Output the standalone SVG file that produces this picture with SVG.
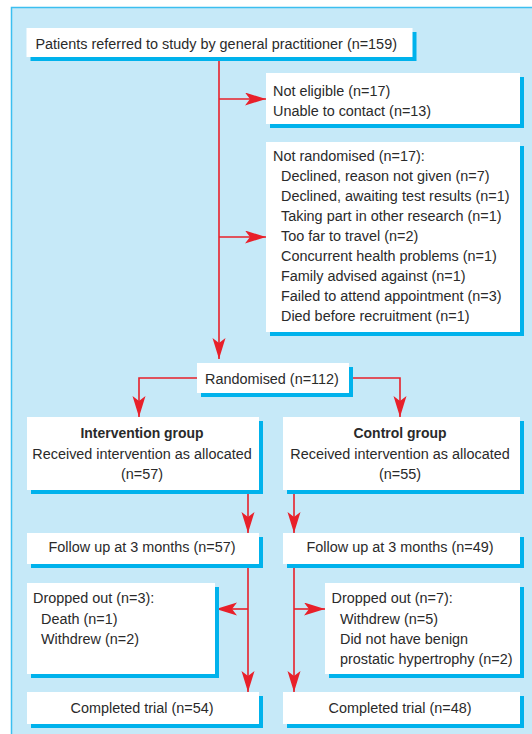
<svg xmlns="http://www.w3.org/2000/svg" width="532" height="734" viewBox="0 0 532 734">
<style>
  .box { fill: #ffffff; }
  .sh { fill: #00b2ec; }
  text { font-family: "Liberation Sans", Arial, sans-serif; font-size: 15.5px; fill: #2a2a2a; }
  .c { text-anchor: middle; }
  .b { font-weight: bold; }
  .ln { fill: none; stroke: #e8202a; stroke-width: 1.6; }
</style>
<defs>
  <marker id="ah" markerUnits="userSpaceOnUse" markerWidth="22" markerHeight="14" refX="21" refY="6.5" orient="auto">
    <path d="M0,0 L21,6.5 L0,13 L5,6.5 Z" fill="#e8202a"/>
  </marker>
</defs>
<rect x="11.5" y="7.5" width="530" height="740" fill="#c6e9f8" stroke="#3cbff0" stroke-width="1.5"/>

<g id="connectors">
  <path class="ln" d="M219,57 V359" marker-end="url(#ah)"/>
  <path class="ln" d="M219,99 H266" marker-end="url(#ah)"/>
  <path class="ln" d="M219,237 H266" marker-end="url(#ah)"/>
  <path class="ln" d="M197,378 H139 V417" marker-end="url(#ah)"/>
  <path class="ln" d="M349,378 H400 V417" marker-end="url(#ah)"/>
  <path class="ln" d="M248,490 V533" marker-end="url(#ah)"/>
  <path class="ln" d="M294,490 V533" marker-end="url(#ah)"/>
  <path class="ln" d="M248,564 V692" marker-end="url(#ah)"/>
  <path class="ln" d="M294,564 V692" marker-end="url(#ah)"/>
  <path class="ln" d="M248,609 H216" marker-end="url(#ah)"/>
  <path class="ln" d="M294,609 H325" marker-end="url(#ah)"/>
</g>

<g id="n_referred">
  <rect class="sh" x="30.5" y="32" width="386" height="29"/>
  <rect class="box" x="26.5" y="28" width="386" height="29"/>
  <text transform="translate(35.5,49) scale(0.93,1)">Patients referred to study by general practitioner (n=159)</text>
</g>

<g id="n_noteligible">
  <rect class="sh" x="270" y="77" width="254" height="51"/>
  <rect class="box" x="266" y="73" width="254" height="51"/>
  <text transform="translate(273,96) scale(0.93,1)">Not eligible (n=17)</text>
  <text transform="translate(273,116) scale(0.93,1)">Unable to contact (n=13)</text>
</g>

<g id="n_notrandomised">
  <rect class="sh" x="270" y="146" width="254" height="190"/>
  <rect class="box" x="266" y="142" width="254" height="190"/>
  <text transform="translate(273,161) scale(0.93,1)">Not randomised (n=17):</text>
  <text transform="translate(281,181) scale(0.93,1)">Declined, reason not given (n=7)</text>
  <text transform="translate(281,201) scale(0.93,1)">Declined, awaiting test results (n=1)</text>
  <text transform="translate(281,221) scale(0.93,1)">Taking part in other research (n=1)</text>
  <text transform="translate(281,241) scale(0.93,1)">Too far to travel (n=2)</text>
  <text transform="translate(281,261) scale(0.93,1)">Concurrent health problems (n=1)</text>
  <text transform="translate(281,281) scale(0.93,1)">Family advised against (n=1)</text>
  <text transform="translate(281,301) scale(0.93,1)">Failed to attend appointment (n=3)</text>
  <text transform="translate(281,321) scale(0.93,1)">Died before recruitment (n=1)</text>
</g>

<g id="n_randomised">
  <rect class="sh" x="201" y="367" width="152" height="30"/>
  <rect class="box" x="197" y="363" width="152" height="30"/>
  <text transform="translate(205,384) scale(0.93,1)">Randomised (n=112)</text>
</g>

<g id="n_intervention">
  <rect class="sh" x="31" y="421" width="232" height="73"/>
  <rect class="box" x="27" y="417" width="232" height="73"/>
  <text class="c b" transform="translate(142,438) scale(0.9,1)">Intervention group</text>
  <text class="c" transform="translate(142,459) scale(0.93,1)">Received intervention as allocated</text>
  <text class="c" transform="translate(142,479) scale(0.93,1)">(n=57)</text>
</g>

<g id="n_control">
  <rect class="sh" x="287" y="421" width="237" height="73"/>
  <rect class="box" x="283" y="417" width="237" height="73"/>
  <text class="c b" transform="translate(400,438) scale(0.9,1)">Control group</text>
  <text class="c" transform="translate(400,459) scale(0.93,1)">Received intervention as allocated</text>
  <text class="c" transform="translate(400,479) scale(0.93,1)">(n=55)</text>
</g>

<g id="n_follow_int">
  <rect class="sh" x="31" y="537" width="232" height="31"/>
  <rect class="box" x="27" y="533" width="232" height="31"/>
  <text class="c" transform="translate(142,552) scale(0.93,1)">Follow up at 3 months (n=57)</text>
</g>

<g id="n_follow_ctl">
  <rect class="sh" x="287" y="537" width="237" height="31"/>
  <rect class="box" x="283" y="533" width="237" height="31"/>
  <text class="c" transform="translate(400,552) scale(0.93,1)">Follow up at 3 months (n=49)</text>
</g>

<g id="n_drop_int">
  <rect class="sh" x="31" y="587" width="188" height="91"/>
  <rect class="box" x="27" y="583" width="188" height="91"/>
  <text transform="translate(33,603) scale(0.93,1)">Dropped out (n=3):</text>
  <text transform="translate(41,624) scale(0.93,1)">Death (n=1)</text>
  <text transform="translate(41,644) scale(0.93,1)">Withdrew (n=2)</text>
</g>

<g id="n_drop_ctl">
  <rect class="sh" x="329" y="587" width="195" height="91"/>
  <rect class="box" x="325" y="583" width="195" height="91"/>
  <text transform="translate(331.5,603) scale(0.93,1)">Dropped out (n=7):</text>
  <text transform="translate(340,624) scale(0.93,1)">Withdrew (n=5)</text>
  <text transform="translate(340,644) scale(0.93,1)">Did not have benign</text>
  <text transform="translate(340,664) scale(0.93,1)">prostatic hypertrophy (n=2)</text>
</g>

<g id="n_complete_int">
  <rect class="sh" x="31" y="696" width="232" height="32"/>
  <rect class="box" x="27" y="692" width="232" height="32"/>
  <text class="c" transform="translate(142,713) scale(0.93,1)">Completed trial (n=54)</text>
</g>

<g id="n_complete_ctl">
  <rect class="sh" x="287" y="696" width="237" height="32"/>
  <rect class="box" x="283" y="692" width="237" height="32"/>
  <text class="c" transform="translate(400,713) scale(0.93,1)">Completed trial (n=48)</text>
</g>
</svg>
